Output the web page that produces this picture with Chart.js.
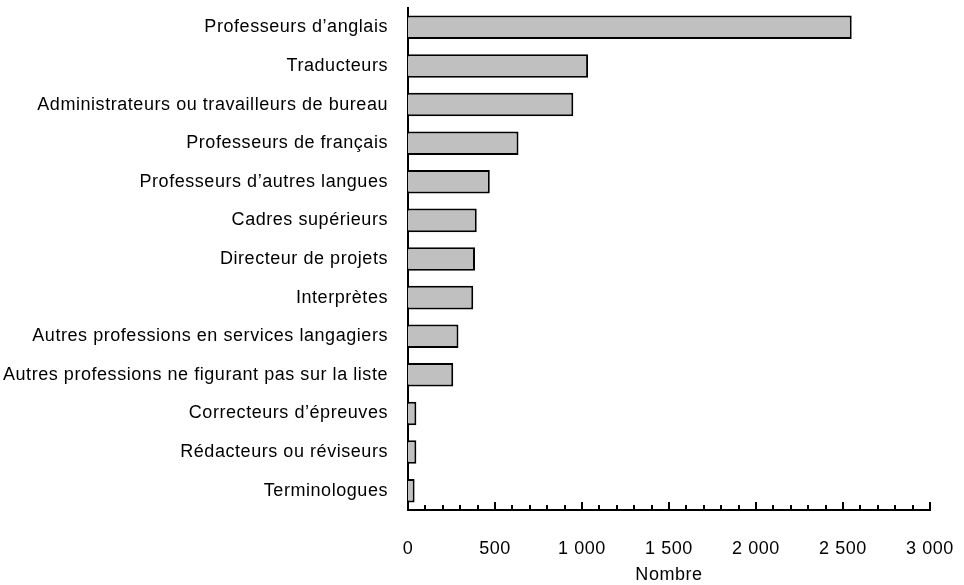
<!DOCTYPE html>
<html>
<head>
<meta charset="utf-8">
<script src="https://cdn.jsdelivr.net/npm/chart.js@4"></script>
<style>
  html, body { margin: 0; padding: 0; background: #fff; }
  #wrap { width: 964px; height: 585px; }
</style>
</head>
<body>
<div id="wrap"><canvas id="profChart" width="964" height="585"></canvas></div>
<script>
const professions = [
  'Professeurs d’anglais',
  'Traducteurs',
  'Administrateurs ou travailleurs de bureau',
  'Professeurs de français',
  'Professeurs d’autres langues',
  'Cadres supérieurs',
  'Directeur de projets',
  'Interprètes',
  'Autres professions en services langagiers',
  'Autres professions ne figurant pas sur la liste',
  'Correcteurs d’épreuves',
  'Rédacteurs ou réviseurs',
  'Terminologues'
];
const counts = [2550, 1035, 950, 635, 470, 395, 385, 375, 290, 260, 48, 48, 38];
const xTicks = [0, 500, 1000, 1500, 2000, 2500, 3000];
const minorStep = 100;

const FONT = '"Liberation Sans", Arial, sans-serif';
const SPACING = '0.55px';

function fmt(v) {
  return String(v).replace(/\B(?=(\d{3})+(?!\d))/g, ' ');
}

// letter spacing gets reset whenever the canvas is resized, so set it on every pass
const spacingPlugin = {
  id: 'spacing',
  beforeUpdate(chart) { chart.ctx.letterSpacing = SPACING; },
  beforeDraw(chart) { chart.ctx.letterSpacing = SPACING; }
};

// tick marks pointing up into the plot, major every 500, minor every 100
const innerTicks = {
  id: 'innerTicks',
  afterDraw(chart) {
    const x = chart.scales.x;
    const ctx = chart.ctx;
    const y0 = x.top;
    ctx.save();
    ctx.strokeStyle = '#000';
    ctx.lineWidth = 2;
    for (let v = x.min; v <= x.max; v += minorStep) {
      const px = Math.round(x.getPixelForValue(v));
      const len = xTicks.includes(v) ? 8 : 5;
      ctx.beginPath();
      ctx.moveTo(px, y0);
      ctx.lineTo(px, y0 - len);
      ctx.stroke();
    }
    ctx.restore();
  }
};

new Chart(document.getElementById('profChart'), {
  type: 'bar',
  data: {
    labels: professions,
    datasets: [{
      data: counts,
      backgroundColor: '#c0c0c0',
      borderColor: '#000',
      borderWidth: 2,
      barPercentage: 0.61,
      categoryPercentage: 1
    }]
  },
  options: {
    indexAxis: 'y',
    responsive: false,
    animation: false,
    layout: { padding: { top: 8, right: 34, left: 0, bottom: 0 } },
    plugins: { legend: { display: false }, tooltip: { enabled: false } },
    scales: {
      x: {
        min: 0,
        max: 3000,
        afterBuildTicks(scale) { scale.ticks = xTicks.map(v => ({ value: v })); },
        afterFit(scale) {
          scale.height = 75;
          scale.paddingLeft = 0;
          scale.paddingRight = 0;
        },
        grid: { display: false, drawTicks: false },
        border: { display: true, color: '#000', width: 2 },
        ticks: {
          padding: 28,
          color: '#000',
          font: { family: FONT, size: 18 },
          callback: v => fmt(v)
        },
        title: {
          display: true,
          text: 'Nombre',
          color: '#000',
          font: { family: FONT, size: 18 },
          padding: { top: 3, bottom: -1 }
        }
      },
      y: {
        afterFit(scale) {
          scale.width = 408;
          scale.paddingTop = 0;
          scale.paddingBottom = 0;
        },
        grid: { display: false, drawTicks: false },
        border: { display: true, color: '#000', width: 2 },
        ticks: {
          padding: 20,
          color: '#000',
          font: { family: FONT, size: 18 }
        }
      }
    }
  },
  plugins: [spacingPlugin, innerTicks]
});
</script>
</body>
</html>
